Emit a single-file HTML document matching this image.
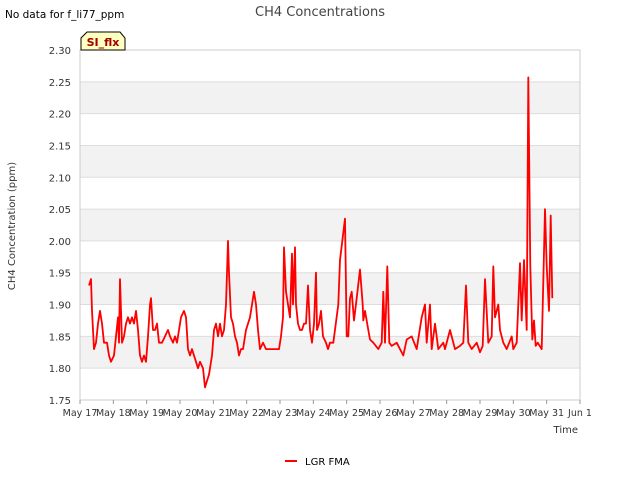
<!DOCTYPE html>
<html><head><meta charset="utf-8"><style>
body{margin:0;background:#fff;font-family:"Liberation Sans","DejaVu Sans",sans-serif}
svg text{font-family:"DejaVu Sans","Liberation Sans",sans-serif}
</style></head><body>
<svg id="c" width="640" height="480">
<text x="5" y="18" font-size="10.5" fill="#000">No data for f_li77_ppm</text>
<text x="320" y="16" font-size="13" fill="#444" text-anchor="middle">CH4 Concentrations</text>
<g id="grid"></g>
<g id="axes"></g>
<path id="line" fill="none" stroke="#ff0000" stroke-width="1.8" stroke-linejoin="round"/>
<g><path d="M81,50 L81,38 L87,32 L120,32 L125,38 L125,50 Z" fill="#ffffc0" stroke="#000" stroke-width="1"/>
<text x="103" y="46" font-size="11" font-weight="bold" fill="#a00000" text-anchor="middle">SI_flx</text></g>
<text x="15" y="226" font-size="10" fill="#333" text-anchor="middle" transform="rotate(-90 15 226)">CH4 Concentration (ppm)</text>
<text x="578" y="433" font-size="10" fill="#333" text-anchor="end">Time</text>
<g><line x1="285" y1="461" x2="297" y2="461" stroke="#ff0000" stroke-width="2"/>
<text x="305" y="465" font-size="10" fill="#000">LGR FMA</text></g>
</svg>
<script>
const yTicks=[1.75,1.80,1.85,1.90,1.95,2.00,2.05,2.10,2.15,2.20,2.25,2.30];
const xLabels=["May 17","May 18","May 19","May 20","May 21","May 22","May 23","May 24","May 25","May 26","May 27","May 28","May 29","May 30","May 31","Jun 1"];
const days=[0.27,0.33,0.36,0.42,0.48,0.54,0.60,0.66,0.72,0.81,0.87,0.93,1.02,1.08,1.14,1.17,1.20,1.26,1.32,1.38,1.44,1.50,1.56,1.62,1.68,1.74,1.80,1.86,1.92,1.98,2.04,2.10,2.13,2.19,2.25,2.31,2.37,2.46,2.55,2.64,2.70,2.79,2.85,2.91,2.97,3.03,3.12,3.18,3.24,3.30,3.36,3.42,3.48,3.54,3.60,3.69,3.75,3.81,3.87,3.96,4.02,4.08,4.14,4.20,4.26,4.32,4.38,4.44,4.47,4.53,4.59,4.65,4.71,4.77,4.83,4.89,4.98,5.04,5.10,5.16,5.22,5.28,5.34,5.40,5.49,5.58,5.70,5.85,5.97,6.03,6.09,6.12,6.18,6.24,6.30,6.36,6.39,6.45,6.48,6.54,6.60,6.66,6.72,6.78,6.84,6.90,6.96,7.02,7.08,7.11,7.17,7.23,7.29,7.38,7.44,
7.50,7.60,7.75,7.80,7.95,8.00,8.05,8.10,8.15,8.22,8.30,8.40,8.48,8.50,8.55,8.65,8.70,8.80,8.95,9.05,9.10,9.15,9.22,9.28,9.35,9.50,9.70,9.80,9.95,10.10,10.25,10.35,10.40,10.50,10.55,10.65,10.75,10.90,10.95,11.10,11.25,11.40,11.50,11.58,11.65,11.75,11.90,12.00,12.08,12.15,12.25,12.35,12.40,12.45,12.55,12.60,12.70,12.80,12.95,13.00,13.10,13.20,13.25,13.32,13.40,13.45,13.51,13.57,13.62,13.67,13.73,13.85,13.95,14.00,14.07,14.12,14.17,14.22,14.28];
const values=[1.93,1.94,1.89,1.83,1.84,1.87,1.89,1.87,1.84,1.84,1.82,1.81,1.82,1.85,1.88,1.84,1.94,1.84,1.85,1.87,1.88,1.87,1.88,1.87,1.89,1.86,1.82,1.81,1.82,1.81,1.85,1.90,1.91,1.86,1.86,1.87,1.84,1.84,1.85,1.86,1.85,1.84,1.85,1.84,1.86,1.88,1.89,1.88,1.83,1.82,1.83,1.82,1.81,1.80,1.81,1.80,1.77,1.78,1.79,1.82,1.86,1.87,1.85,1.87,1.85,1.86,1.90,2.00,1.95,1.88,1.87,1.85,1.84,1.82,1.83,1.83,1.86,1.87,1.88,1.90,1.92,1.90,1.86,1.83,1.84,1.83,1.83,1.83,1.83,1.85,1.88,1.99,1.92,1.90,1.88,1.98,1.90,1.99,1.90,1.87,1.86,1.86,1.87,1.87,1.93,1.86,1.84,1.87,1.95,1.86,1.87,1.89,1.85,1.84,1.83,
1.84,1.84,1.90,1.97,2.035,1.85,1.85,1.91,1.92,1.875,1.91,1.955,1.90,1.875,1.89,1.86,1.845,1.84,1.83,1.84,1.92,1.84,1.96,1.84,1.835,1.84,1.82,1.845,1.85,1.83,1.88,1.90,1.84,1.90,1.83,1.87,1.83,1.84,1.83,1.86,1.83,1.835,1.84,1.93,1.84,1.83,1.84,1.825,1.835,1.94,1.84,1.85,1.96,1.88,1.90,1.86,1.84,1.83,1.85,1.83,1.84,1.965,1.875,1.97,1.86,2.257,1.96,1.845,1.875,1.835,1.84,1.83,2.05,1.96,1.89,2.04,1.91];
const X0=80,X1=580,Y0=400,Y1=50;
const xs=d=>X0+d*(X1-X0)/15;
const ys=v=>Y0-(v-1.75)*(Y0-Y1)/0.55;
const NS="http://www.w3.org/2000/svg";
const grid=document.getElementById('grid'),axes=document.getElementById('axes');
for(let i=0;i<yTicks.length-1;i++){
 if(i%2===1){const r=document.createElementNS(NS,'rect');
 r.setAttribute('x',X0);r.setAttribute('y',ys(yTicks[i+1]));r.setAttribute('width',X1-X0);r.setAttribute('height',ys(yTicks[i])-ys(yTicks[i+1]));r.setAttribute('fill','#f2f2f2');
 
 
 grid.appendChild(r);}
}
yTicks.forEach(t=>{
 const l=document.createElementNS(NS,'line');l.setAttribute('x1',X0);l.setAttribute('x2',X1);l.setAttribute('y1',ys(t));l.setAttribute('y2',ys(t));l.setAttribute('stroke','#dddddd');
 
 
 grid.appendChild(l);
 const tx=document.createElementNS(NS,'text');tx.setAttribute('x',X0-9);tx.setAttribute('y',ys(t)+4);tx.setAttribute('font-size','10');tx.setAttribute('fill','#333');tx.setAttribute('text-anchor','end');tx.textContent=t.toFixed(2);
 
 
 axes.appendChild(tx);
});
const fr=document.createElementNS(NS,'rect');fr.setAttribute('x',X0);fr.setAttribute('y',Y1);fr.setAttribute('width',X1-X0);fr.setAttribute('height',Y0-Y1);fr.setAttribute('fill','none');fr.setAttribute('stroke','#cccccc');


axes.appendChild(fr);
xLabels.forEach((s,i)=>{
 const l=document.createElementNS(NS,'line');l.setAttribute('x1',xs(i));l.setAttribute('x2',xs(i));l.setAttribute('y1',Y0);l.setAttribute('y2',Y0+4);l.setAttribute('stroke','#999');
 
 
 axes.appendChild(l);
 const tx=document.createElementNS(NS,'text');tx.setAttribute('x',xs(i));tx.setAttribute('y',Y0+16);tx.setAttribute('font-size','9.5');tx.setAttribute('fill','#333');tx.setAttribute('text-anchor','middle');tx.textContent=s;
 
 
 axes.appendChild(tx);
});
document.getElementById('line').setAttribute('d',days.map((d,i)=>(i?'L':'M')+xs(d).toFixed(1)+','+ys(values[i]).toFixed(1)).join(''));
</script>
</body></html>
